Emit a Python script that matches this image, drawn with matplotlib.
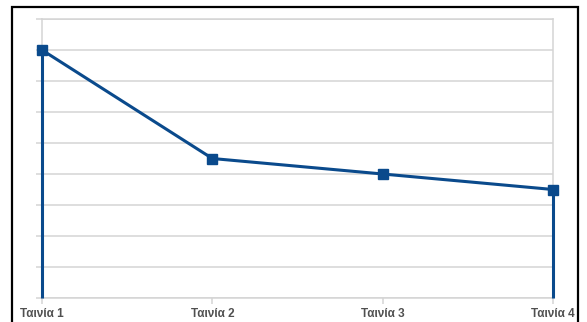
import matplotlib
matplotlib.use("Agg")
import matplotlib.pyplot as plt
from matplotlib.patches import Rectangle

categories = ["Ταινία 1", "Ταινία 2", "Ταινία 3", "Ταινία 4"]
values = [8.0, 4.5, 4.0, 3.5]
y_max = 9
y_ticks = list(range(0, 10))

line_color = "#0a4a8c"
grid_color = "#d4d4d4"
label_color = "#505050"

W, H = 587, 322
fig = plt.figure(figsize=(W / 100, H / 100), dpi=100)
fig.patch.set_facecolor("white")

# frame around the whole chart
fig.patches.append(Rectangle((12 / W, -0.05), (578 - 12) / W, 1.05 - 7 / H,
                             transform=fig.transFigure, fill=False,
                             edgecolor="black", linewidth=1.6, zorder=0))

ax = fig.add_axes([42 / W, (H - 298) / H, (553 - 42) / W, (298 - 19) / H])
x = list(range(len(categories)))

ax.plot(x, values, color=line_color, linewidth=2.2, marker="s",
        markersize=7, zorder=3, clip_on=False)
# drop lines at the two ends of the series
ax.vlines([x[0], x[-1]], 0, [values[0], values[-1]], color=line_color,
          linewidth=2.2, zorder=3, clip_on=False)

ax.set_xlim(x[0], x[-1])
ax.set_ylim(0, y_max)
ax.set_yticks(y_ticks)
ax.set_yticklabels([])
ax.set_xticks(x)
ax.set_xticklabels(categories, fontsize=8.5, fontweight="bold",
                   color=label_color, family="Liberation Sans")
ax.grid(axis="y", color=grid_color, linewidth=1.1)
ax.set_axisbelow(True)
ax.tick_params(axis="y", length=4, color=grid_color, width=1.1)
ax.tick_params(axis="x", length=4, color=grid_color, width=1.1, pad=3)
for side in ["left", "right", "bottom", "top"]:
    ax.spines[side].set_color(grid_color)
    ax.spines[side].set_linewidth(1.1)
ax.set_facecolor("white")

fig.savefig("out.png", dpi=100)
